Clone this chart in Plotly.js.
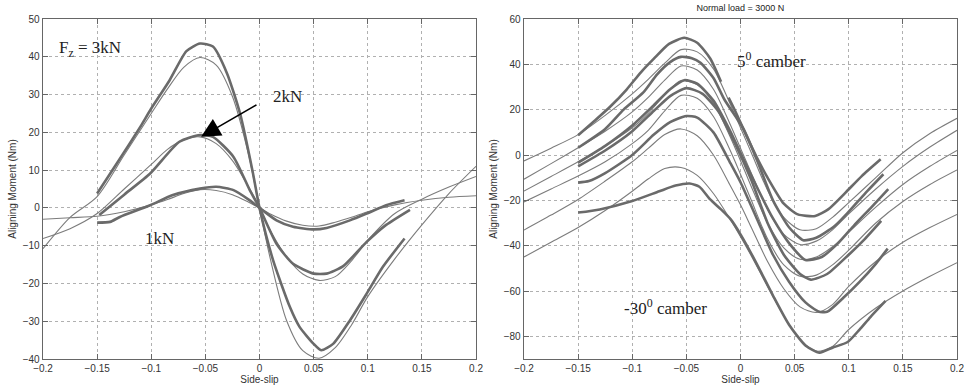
<!DOCTYPE html>
<html>
<head>
<meta charset="utf-8">
<script src="https://cdn.plot.ly/plotly-3.0.1.min.js"></script>
<style>html,body{margin:0;padding:0;background:#fff;}#chart{width:964px;height:389px;}</style>
</head>
<body>
<div id="chart"></div>
<script>
// ---------- shared ----------
const xTicks = [-0.2, -0.15, -0.1, -0.05, 0, 0.05, 0.1, 0.15, 0.2];
const leftYTicks = [-40, -30, -20, -10, 0, 10, 20, 30, 40, 50];
const rightYTicks = [-80, -60, -40, -20, 0, 20, 40, 60];

// ---------- left panel: Fz = 1, 2, 3 kN ----------
const modelX = [-0.2, -0.175, -0.15, -0.125, -0.1, -0.085, -0.07, -0.055, -0.04, -0.025, -0.01, 0, 0.01, 0.025, 0.04, 0.055, 0.07, 0.085, 0.1, 0.125, 0.15, 0.175, 0.2];
const model3kN = [-10.8, -2.5, 3, 14, 25, 31.5, 37.2, 39.8, 37.8, 29.5, 14, 0, -13.5, -29.8, -37.8, -39.8, -37, -31, -23.5, -13.5, -4.5, 3.8, 11];
const model2kN = [-8.1, -5.5, -1.5, 5, 11.5, 15.5, 18, 18.8, 17, 12.5, 5.5, 0, -6, -13, -17.5, -19.2, -18.2, -14, -8.6, -1.5, 2.3, 5.5, 8.3];
const model1kN = [-3, -2.6, -2.2, -1, 0.8, 2.2, 3.8, 4.8, 4.6, 3.5, 1.5, 0, -1.6, -3.5, -4.6, -4.8, -3.8, -2.5, -1, 0.8, 2, 2.8, 3.2];

const meas3kNX = [-0.15, -0.132, -0.12, -0.11, -0.1, -0.083, -0.0675, -0.055, -0.043, -0.03, -0.018, -0.006, 0, 0.0126, 0.028, 0.037, 0.05, 0.057, 0.068, 0.0835, 0.099, 0.114, 0.134];
const meas3kNY = [3.8, 11.7, 17, 21.5, 26.3, 33.8, 41.5, 43.5, 42.7, 35.6, 25, 9.1, 0, -13.9, -26.2, -31.5, -36, -37.7, -36, -29.8, -22.7, -15.6, -8.1];
const meas2kNX = [-0.148, -0.125, -0.101, -0.074, -0.055, -0.043, -0.024, -0.009, 0, 0.0157, 0.031, 0.05, 0.062, 0.077, 0.099, 0.117, 0.139];
const meas2kNY = [-1.9, 3.5, 9.1, 17.5, 19.3, 18.8, 13.5, 4.7, 0, -9.5, -14.8, -17.4, -17.4, -15.5, -9, -4.5, -0.5];
const meas1kNX = [-0.15, -0.138, -0.129, -0.101, -0.08, -0.055, -0.04, -0.024, -0.009, 0, 0.0157, 0.031, 0.05, 0.062, 0.0835, 0.099, 0.117, 0.134];
const meas1kNY = [-3.9, -3.7, -2.4, 0.7, 3.4, 5.1, 5.6, 4.7, 2, 0, -3.3, -5, -5.7, -5.3, -3.3, -1.5, 0.7, 2];

// ---------- right panel: normal load 3000 N, camber 5 .. -30 deg ----------
const camberModel1 = [-2.6, 3, 9, 17.5, 27, 33.5, 40.5, 46.5, 45.5, 38, 23, 12, 1, -15.5, -27.5, -33, -32.5, -27.5, -21, -10, 1, 9.5, 16.2];
const camberModel2 = [-10.7, -3.8, 3.2, 10.5, 19, 25.5, 33, 39.3, 37.5, 29, 14, 3, -8, -24, -35, -39.5, -38, -33, -26, -15, -5, 3.5, 10.9];
const camberModel3 = [-15.9, -9.5, -3, 4, 12, 18.5, 26.5, 32.8, 31, 23, 8.5, -2.5, -14, -30, -41, -46, -45, -40.5, -34, -23, -13, -5, 2];
const camberModel4 = [-20.7, -15, -9.3, -3, 5, 11, 19.5, 26.3, 25, 17, 2.5, -8.5, -20, -37, -48.5, -53.5, -53, -48.5, -42, -30, -20.5, -13, -6.6];
const camberModel5 = [-33.1, -26.5, -19.6, -11.5, -3, 3, 9, 11.5, 8.5, 0, -13, -22, -32, -47, -59, -67, -69.5, -66, -58, -47, -38.5, -32, -26.2];
const camberModel6 = [-45, -38.5, -32, -24.5, -16, -10.5, -6, -5.5, -9, -17, -28, -36, -44.5, -58, -71, -81.5, -86.5, -84.5, -77, -67.5, -60, -53.5, -47.5];

const camberMeas1X = [-0.15, -0.135, -0.12, -0.105, -0.092, -0.08, -0.066, -0.052, -0.04, -0.028, -0.018, -0.015, -0.011, -0.005, 0.005, 0.015, 0.025, 0.04, 0.053, 0.069, 0.081, 0.097, 0.112, 0.1295];
const camberMeas1Y = [8.7, 15, 21.5, 29, 36.5, 42.5, 49, 51.7, 49.5, 42.6, 32.3, null, 25.3, 19.5, 9, -1, -10, -21.5, -26.2, -26.9, -24, -16.6, -9.3, -1.9];
const camberMeas2X = [-0.15, -0.125, -0.108, -0.09, -0.077, -0.065, -0.055, -0.045, -0.037, -0.025, -0.015, 0.003, 0.015, 0.03, 0.045, 0.058, 0.07, 0.087, 0.1, 0.115, 0.132];
const camberMeas2Y = [3.2, 11.5, 20, 27.5, 35.6, 41, 43.3, 42.7, 40.7, 34, 24.6, 11.3, -2, -20, -32, -37.6, -36.5, -31.3, -25, -17, -8.5];
const camberMeas3X = [-0.15, -0.125, -0.1, -0.08, -0.065, -0.052, -0.04, -0.025, -0.01, 0, 0.015, 0.03, 0.045, 0.06, 0.075, 0.09, 0.105, 0.12, 0.1365];
const camberMeas3Y = [-3.4, 4, 13, 22, 29, 33, 31.5, 24, 11, 1, -14, -28, -39, -46.3, -45, -39, -31, -23.5, -15.1];
const camberMeas4X = [-0.15, -0.125, -0.1, -0.08, -0.065, -0.05, -0.035, -0.02, -0.005, 0.01, 0.025, 0.04, 0.055, 0.065, 0.08, 0.1, 0.115, 0.13];
const camberMeas4Y = [-5, 2, 10.5, 19.5, 26, 29.5, 27, 19, 5, -11, -30, -44, -52.5, -55, -52.5, -44, -37, -29.1];
const camberMeas5X = [-0.15, -0.14, -0.125, -0.1, -0.08, -0.065, -0.05, -0.04, -0.025, -0.01, 0, 0.015, 0.03, 0.045, 0.06, 0.072, 0.08, 0.095, 0.11, 0.125, 0.136];
const camberMeas5Y = [-12.2, -11.5, -8, 0, 9, 14.5, 17.2, 16.5, 10, -3, -12, -28, -44, -56, -65, -69, -69.2, -63, -56, -48, -41.3];
const camberMeas6X = [-0.15, -0.13, -0.1, -0.075, -0.06, -0.047, -0.038, -0.028, -0.018, -0.009, 0, 0.015, 0.03, 0.045, 0.06, 0.073, 0.085, 0.099, 0.11, 0.12, 0.134];
const camberMeas6Y = [-25.4, -24, -20.3, -16, -13.5, -12.6, -14, -19.6, -24, -28.4, -35, -48, -62, -75, -84, -87.2, -85, -82.5, -77, -71.5, -64.4];

// ---------- styling ----------
const thinLine = {color: '#7c7c7c', width: 1.1, shape: 'spline', smoothing: 0.8};
const thickLine = {color: '#6a6a6a', width: 2.6, shape: 'spline', smoothing: 0.6};

function tr(x, y, line, xa, ya) {
  return {x: x, y: y, type: 'scatter', mode: 'lines', line: line, xaxis: xa, yaxis: ya, hoverinfo: 'skip', showlegend: false};
}

const data = [
  tr(modelX, model3kN, thinLine, 'x', 'y'),
  tr(modelX, model2kN, thinLine, 'x', 'y'),
  tr(modelX, model1kN, thinLine, 'x', 'y'),
  tr(meas3kNX, meas3kNY, thickLine, 'x', 'y'),
  tr(meas2kNX, meas2kNY, thickLine, 'x', 'y'),
  tr(meas1kNX, meas1kNY, thickLine, 'x', 'y'),
  tr(modelX, camberModel1, thinLine, 'x2', 'y2'),
  tr(modelX, camberModel2, thinLine, 'x2', 'y2'),
  tr(modelX, camberModel3, thinLine, 'x2', 'y2'),
  tr(modelX, camberModel4, thinLine, 'x2', 'y2'),
  tr(modelX, camberModel5, thinLine, 'x2', 'y2'),
  tr(modelX, camberModel6, thinLine, 'x2', 'y2'),
  tr(camberMeas1X, camberMeas1Y, thickLine, 'x2', 'y2'),
  tr(camberMeas2X, camberMeas2Y, thickLine, 'x2', 'y2'),
  tr(camberMeas3X, camberMeas3Y, thickLine, 'x2', 'y2'),
  tr(camberMeas4X, camberMeas4Y, thickLine, 'x2', 'y2'),
  tr(camberMeas5X, camberMeas5Y, thickLine, 'x2', 'y2'),
  tr(camberMeas6X, camberMeas6Y, thickLine, 'x2', 'y2')
];

const tickFont = {family: 'Liberation Sans, Arial, sans-serif', size: 10, color: '#333'};
const titleFont = {family: 'Liberation Sans, Arial, sans-serif', size: 10, color: '#333'};
const annFont = {family: 'Liberation Serif, Times New Roman, serif', size: 17, color: '#222'};

function xAxis(domain, anchor) {
  return {
    domain: domain, anchor: anchor, range: [-0.2, 0.2], tickvals: xTicks,
    showline: true, linecolor: '#666', linewidth: 1.3, mirror: 'ticks',
    ticks: 'inside', ticklen: 5, tickcolor: '#666', tickfont: tickFont,
    ticklabeloverflow: 'allow',
    showgrid: true, gridcolor: '#b0b0b0', griddash: 'dot', gridwidth: 1, zeroline: false,
    title: {text: 'Side-slip', font: titleFont, standoff: 2}
  };
}
function yAxis(range, ticks, anchor) {
  return {
    domain: [0, 1], anchor: anchor, range: range, tickvals: ticks,
    showline: true, linecolor: '#666', linewidth: 1.3, mirror: 'ticks',
    ticks: 'inside', ticklen: 5, tickcolor: '#666', tickfont: tickFont,
    showgrid: true, gridcolor: '#b0b0b0', griddash: 'dot', gridwidth: 1, zeroline: false,
    title: {text: 'Aligning Moment (Nm)', font: titleFont, standoff: 4}
  };
}

const layout = {
  width: 964, height: 389,
  margin: {l: 0, r: 0, t: 19, b: 30},
  paper_bgcolor: '#fff', plot_bgcolor: '#fff',
  title: {text: 'Normal load = 3000 N', font: {family: 'Liberation Sans, Arial, sans-serif', size: 9, color: '#222'},
          x: 0.768, xanchor: 'center', xref: 'paper', y: 0.979, yanchor: 'middle', yref: 'container'},
  xaxis: xAxis([43 / 964, 476 / 964], 'y'),
  yaxis: yAxis([-40, 50], leftYTicks, 'x'),
  xaxis2: xAxis([524 / 964, 957 / 964], 'y2'),
  yaxis2: yAxis([-90, 60], rightYTicks, 'x2'),
  annotations: [
    {x: -0.157, y: 42, xref: 'x', yref: 'y', text: 'F<sub>z</sub> = 3kN', showarrow: false, font: annFont},
    {x: 0.026, y: 29.4, xref: 'x', yref: 'y', text: '2kN', showarrow: false, font: annFont},
    {x: -0.092, y: -8, xref: 'x', yref: 'y', text: '1kN', showarrow: false, font: annFont},
    {x: -0.054, y: 18.8, xref: 'x', yref: 'y', ax: -0.0014, ay: 27.5, axref: 'x', ayref: 'y',
     text: '', showarrow: true, arrowhead: 2, arrowsize: 2.4, arrowwidth: 1.6, arrowcolor: '#000'},
    {x: 0.029, y: 41.8, xref: 'x2', yref: 'y2', text: '5<sup>0</sup> camber', showarrow: false, font: annFont},
    {x: -0.069, y: -67.2, xref: 'x2', yref: 'y2', text: '-30<sup>0</sup> camber', showarrow: false, font: annFont}
  ]
};

Plotly.newPlot('chart', data, layout, {staticPlot: true, displayModeBar: false});
</script>
</body>
</html>
